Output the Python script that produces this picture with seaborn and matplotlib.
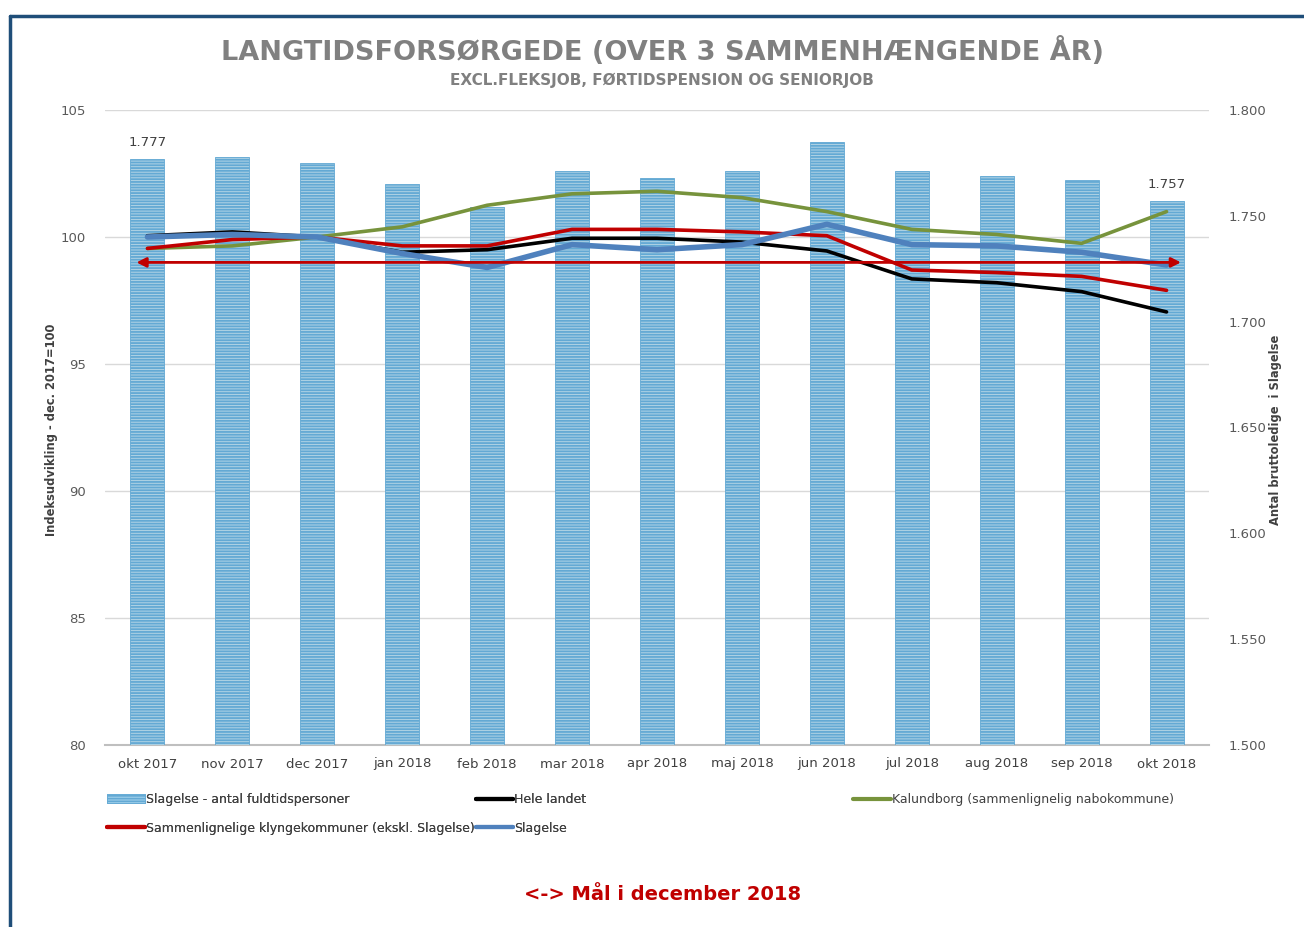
import matplotlib
matplotlib.use("Agg")
import matplotlib.pyplot as plt
import seaborn as sns
import pandas as pd
from matplotlib.patches import Patch
from matplotlib.lines import Line2D
from matplotlib.ticker import FuncFormatter, MultipleLocator

# data
maaneder = ["okt 2017", "nov 2017", "dec 2017", "jan 2018", "feb 2018", "mar 2018", "apr 2018",
            "maj 2018", "jun 2018", "jul 2018", "aug 2018", "sep 2018", "okt 2018"]
fuldtid_slagelse = [1777, 1778, 1775, 1765, 1754, 1771, 1768, 1771, 1785, 1771, 1769, 1767, 1757]
hele_landet = [100.05, 100.2, 100.0, 99.4, 99.5, 99.95, 99.95, 99.8, 99.45, 98.35, 98.2, 97.85, 97.05]
klynge = [99.55, 99.9, 100.0, 99.65, 99.65, 100.3, 100.3, 100.2, 100.05, 98.7, 98.6, 98.45, 97.9]
kalundborg = [99.55, 99.65, 100.0, 100.4, 101.25, 101.7, 101.8, 101.55, 101.0, 100.3, 100.1, 99.75, 101.0]
slagelse = [100.0, 100.1, 100.0, 99.35, 98.8, 99.7, 99.5, 99.7, 100.5, 99.7, 99.65, 99.4, 98.9]
maal = 99.0

serier = {
    "Hele landet": (hele_landet, "#000000", 2.6),
    "Kalundborg (sammenlignelig nabokommune)": (kalundborg, "#77933C", 2.6),
    "Sammenlignelige klyngekommuner (ekskl. Slagelse)": (klynge, "#C00000", 2.6),
    "Slagelse": (slagelse, "#4F81BD", 4.0),
}

sns.set_style("white")
plt.rcParams['font.family'] = ['DejaVu Sans']
plt.rcParams['hatch.linewidth'] = 1.3

fig = plt.figure(figsize=(13.04, 9.27), dpi=100)
# værtsakse: venstre indeks-skala + gitterlinjer (bagerst)
ax = fig.add_axes([105/1304, 1-745/927, (1209-105)/1304, (745-110)/927])
ax.set_ylim(80, 105)
ax.yaxis.set_major_locator(MultipleLocator(5))
ax.grid(axis='y', color="#D9D9D9", linewidth=1)
ax.set_axisbelow(True)
for s in ["top", "left", "right"]:
    ax.spines[s].set_visible(False)
ax.spines["bottom"].set_color("#BFBFBF")
ax.spines["bottom"].set_linewidth(1.5)

# søjler (højre akse)
ax_bar = ax.twinx()
sns.barplot(x=maaneder, y=fuldtid_slagelse, color="#A8D6EE", width=0.4, ax=ax_bar, zorder=2)
for p in ax_bar.patches:
    p.set_hatch("------")
    p.set_edgecolor("#63A9D4")
    p.set_linewidth(0.6)
ax_bar.set_ylim(1500, 1800)
ax_bar.yaxis.set_major_locator(MultipleLocator(50))
ax_bar.yaxis.set_major_formatter(FuncFormatter(lambda v, pos: f"{v/1000:.3f}"))
ax_bar.set_xlim(-0.5, len(maaneder) - 0.5)
for s in ax_bar.spines.values():
    s.set_visible(False)
ax_bar.set_xlabel("")
ax_bar.set_ylabel("")
etiketter = [f"{v/1000:.3f}" if i in (0, len(fuldtid_slagelse) - 1) else "" for i, v in enumerate(fuldtid_slagelse)]
ax_bar.bar_label(ax_bar.containers[0], labels=etiketter, padding=7, fontsize=9.5, color="#404040")

# linjer (venstre skala)
ax_line = ax.twinx()
for navn, (vaerdier, farve, lw) in serier.items():
    d = pd.DataFrame({"maaned": maaneder, "indeks": vaerdier})
    sns.lineplot(data=d, x="maaned", y="indeks", color=farve, linewidth=lw, sort=False,
                 estimator=None, legend=False, ax=ax_line, zorder=3)
ax_line.annotate("", xy=(len(maaneder) - 1 + 0.17, maal), xytext=(-0.13, maal),
                 arrowprops=dict(arrowstyle="<|-|>", color="#C00000", lw=2, mutation_scale=14,
                                 shrinkA=0, shrinkB=0), zorder=4)
ax_line.set_ylim(80, 105)
ax_line.set_xlim(-0.5, len(maaneder) - 0.5)
ax_line.tick_params(axis='y', left=False, right=False, labelleft=False, labelright=False)
for s in ax_line.spines.values():
    s.set_visible(False)
ax_line.set_xlabel("")
ax_line.set_ylabel("")

# akser: indeks til venstre, antal til højre
ax.yaxis.tick_left()
ax.tick_params(axis='y', left=False, labelleft=True, right=False, labelright=False,
               length=0, pad=14, labelsize=9.5, labelcolor="#595959")
ax.tick_params(axis='x', length=0, pad=9, labelsize=9.5, labelcolor="#404040")
ax_bar.yaxis.tick_right()
ax_bar.tick_params(axis='y', left=False, labelleft=False, right=False, labelright=True,
                   length=0, pad=14, labelsize=9.5, labelcolor="#595959")

# aksetitler
fig.text(52/1304, 1-430/927, "Indeksudvikling - dec. 2017=100", rotation=90, ha="center", va="center",
         fontsize=8.3, fontweight="bold", color="#404040")
fig.text(1275/1304, 1-430/927, "Antal bruttoledige  i Slagelse", rotation=90, ha="center", va="center",
         fontsize=8.3, fontweight="bold", color="#404040")

# titler
fig.text(0.508, 1-52/927, "LANGTIDSFORSØRGEDE (OVER 3 SAMMENHÆNGENDE ÅR)", ha="center", va="center",
         fontsize=19.5, fontweight="bold", color="#808080")
fig.text(0.508, 1-80/927, "EXCL.FLEKSJOB, FØRTIDSPENSION OG SENIORJOB", ha="center", va="center",
         fontsize=11, fontweight="bold", color="#808080")

# forklaring
bar_handle = Patch(facecolor="#A8D6EE", edgecolor="#63A9D4", hatch="------", linewidth=0.6)
h = {n: Line2D([], [], color=c, linewidth=3) for n, (_, c, _) in serier.items()}
names1 = ["Slagelse - antal fuldtidspersoner", "Sammenlignelige klyngekommuner (ekskl. Slagelse)",
          "Hele landet", "Slagelse"]
handles1 = [bar_handle, h[names1[1]], h["Hele landet"], h["Slagelse"]]
leg1 = fig.legend(handles1, names1, ncol=2, loc="upper left", bbox_to_anchor=(107/1304, 1-793/927),
                  frameon=False, fontsize=9, handlelength=3.0, handletextpad=0.1, columnspacing=0.1,
                  borderpad=0, borderaxespad=0, labelspacing=1.25, labelcolor="#404040")
fig.legend([h["Kalundborg (sammenlignelig nabokommune)"]], ["Kalundborg (sammenlignelig nabokommune)"],
           loc="upper left", bbox_to_anchor=(853/1304, 1-793/927), frameon=False, fontsize=9,
           handlelength=3.0, handletextpad=0.1, borderpad=0, borderaxespad=0, labelcolor="#404040")
fig.add_artist(leg1)

fig.text(0.508, 1-895/927, "<-> Mål i december 2018", ha="center", va="center",
         fontsize=14, fontweight="bold", color="#C00000")

# ramme
y_top = 1 - 16/927
x_left = 10/1304
fig.add_artist(Line2D([x_left, 1], [y_top, y_top], transform=fig.transFigure, color="#1F4E79", linewidth=2.5))
fig.add_artist(Line2D([x_left, x_left], [0, y_top], transform=fig.transFigure, color="#1F4E79", linewidth=2.5))

fig.savefig("out.png", dpi=100, facecolor="white")
